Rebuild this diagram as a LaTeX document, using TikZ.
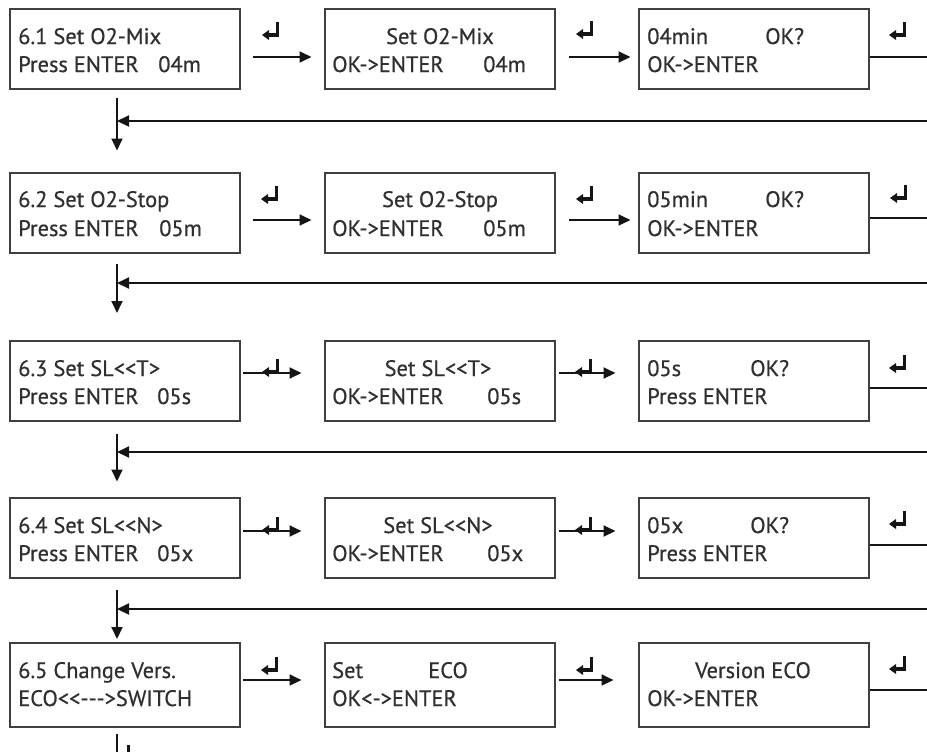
\documentclass[tikz,border=0pt]{standalone}
\usepackage{fontspec}
\setmainfont{PT Sans}
\newfontfamily\lcdfont{PT Sans}[FakeBold=0.6]
\usetikzlibrary{arrows.meta,calc}
\definecolor{ink}{HTML}{151515}
\definecolor{txtc}{HTML}{303030}
\definecolor{frame}{HTML}{404040}
\begin{document}
\begin{tikzpicture}[x=0.75pt,y=-0.75pt,
  box/.style={draw=frame,line width=1.5pt,minimum width=172.5pt,minimum height=60pt,inner sep=0pt,fill=white},
  tallbox/.style={box,minimum height=63pt},
  lbl/.style={anchor=base west,inner sep=0pt,text=txtc,font=\lcdfont\fontsize{16.8}{20}\selectfont},
  lblc/.style={lbl,anchor=base},
  arr/.style={draw=ink,line width=1.6pt,-{Triangle[length=9pt,width=8.2pt]}},
  ln/.style={draw=ink,line width=1.6pt},
  retkey/.pic={\draw[ink,line width=2.5pt,line join=miter] (5.5,-9) -- (5.5,4) -- (-4,4);
               \fill[ink] (-10,4) -- (-3,-1) -- (-3,9) -- cycle;}
]
\useasboundingbox (0,0) rectangle (927,751);
\clip (0,0) rectangle (927,751);

% ---------- boxes ----------
\node[box] (b11) at (125,49) {};
\node[box] (b12) at (439.5,49) {};
\node[box] (b13) at (753.5,49) {};
\node[box] (b21) at (125,212.5) {};
\node[box] (b22) at (439.5,212.5) {};
\node[box] (b23) at (753.5,212.5) {};
\node[box] (b31) at (125,381) {};
\node[box] (b32) at (439.5,381) {};
\node[box] (b33) at (753.5,381) {};
\node[box] (b41) at (125,537.5) {};
\node[box] (b42) at (439.5,537.5) {};
\node[box] (b43) at (753.5,537.5) {};
\node[tallbox] (b51) at (125,685) {};
\node[tallbox] (b52) at (439.5,685) {};
\node[tallbox] (b53) at (753.5,685) {};

% ---------- texts ----------
% row 1
\node[lbl] (t11a) at (18,44) {6.1 Set O2-Mix};
\node[lbl] (t11b) at (18,72) {Press ENTER};
\node[lbl] (t11c) at (158,72) {04m};
\node[lblc] (t12a) at (440,44) {Set O2-Mix};
\node[lbl] (t12b) at (332,72) {OK->ENTER};
\node[lbl] (t12c) at (483,72) {04m};
\node[lbl] (t13a) at (647,44) {04min};
\node[lbl] (t13b) at (765,44) {OK?};
\node[lbl] (t13c) at (647,72) {OK->ENTER};
% row 2
\node[lbl] (t21a) at (18,207) {6.2 Set O2-Stop};
\node[lbl] (t21b) at (18,236) {Press ENTER};
\node[lbl] (t21c) at (159,236) {05m};
\node[lblc] (t22a) at (440,207) {Set O2-Stop};
\node[lbl] (t22b) at (332,236) {OK->ENTER};
\node[lbl] (t22c) at (483,236) {05m};
\node[lbl] (t23a) at (647,207) {05min};
\node[lbl] (t23b) at (765,207) {OK?};
\node[lbl] (t23c) at (647,236) {OK->ENTER};
% row 3
\node[lbl] (t31a) at (18,376) {6.3 Set SL<{}<T>};
\node[lbl] (t31b) at (18,404) {Press ENTER};
\node[lbl] (t31c) at (157,404) {05s};
\node[lblc] (t32a) at (438,376) {Set SL<{}<T>};
\node[lbl] (t32b) at (332,404) {OK->ENTER};
\node[lbl] (t32c) at (487,404) {05s};
\node[lbl] (t33a) at (647,376) {05s};
\node[lbl] (t33b) at (750,376) {OK?};
\node[lbl] (t33c) at (647,404) {Press ENTER};
% row 4
\node[lbl] (t41a) at (18,533) {6.4 Set SL<{}<N>};
\node[lbl] (t41b) at (18,561) {Press ENTER};
\node[lbl] (t41c) at (157,561) {05x};
\node[lblc] (t42a) at (438,533) {Set SL<{}<N>};
\node[lbl] (t42b) at (332,561) {OK->ENTER};
\node[lbl] (t42c) at (487,561) {05x};
\node[lbl] (t43a) at (647,533) {05x};
\node[lbl] (t43b) at (750,533) {OK?};
\node[lbl] (t43c) at (647,561) {Press ENTER};
% row 5
\node[lbl] (t51a) at (18,678) {6.5 Change Vers.};
\node[lbl] (t51b) at (18,706) {ECO<{}<-{}-{}->SWITCH};
\node[lbl] (t52a) at (332,678) {Set};
\node[lbl] (t52b) at (428,678) {ECO};
\node[lbl] (t52c) at (332,706) {OK<->ENTER};
\node[lblc] (t53a) at (753,678) {Version ECO};
\node[lbl] (t53b) at (647,706) {OK->ENTER};

% ---------- horizontal arrows ----------
\draw[arr] ($(b11.east)+(12,8)$) -- ($(b12.west)+(-12,8)$);
\draw[arr] ($(b12.east)+(13,8)$) -- ($(b13.west)+(-7,8)$);
\draw[arr] ($(b21.east)+(12,7.5)$) -- ($(b22.west)+(-12,7.5)$);
\draw[arr] ($(b22.east)+(13,7.5)$) -- ($(b23.west)+(-7,7.5)$);
\draw[arr] ($(b31.east)+(2,-8)$) -- ($(b32.west)+(-22,-8)$);
\draw[arr] ($(b32.east)+(3,-8)$) -- ($(b33.west)+(-22,-8)$);
\draw[arr] ($(b41.east)+(2,-6.5)$) -- ($(b42.west)+(-22,-6.5)$);
\draw[arr] ($(b42.east)+(3,-6.5)$) -- ($(b43.west)+(-22,-6.5)$);
\draw[arr] ($(b51.east)+(2,-5)$) -- ($(b52.west)+(-22,-5)$);
\draw[arr] ($(b52.east)+(3,-5)$) -- ($(b53.west)+(-24,-5)$);

% ---------- exits to the right edge ----------
\coordinate (e1) at (930,57);
\coordinate (e2) at (930,218);
\coordinate (e3) at (930,388);
\coordinate (e4) at (930,545);
\coordinate (e5) at (930,690);
\draw[ln] ($(b13.east)+(0,8)$) -- (e1);
\draw[ln] ($(b23.east)+(0,5.5)$) -- (e2);
\draw[ln] ($(b33.east)+(0,7)$) -- (e3);
\draw[ln] ($(b43.east)+(0,7.5)$) -- (e4);
\draw[ln] ($(b53.east)+(0,5)$) -- (e5);

% ---------- vertical arrows ----------
\coordinate (v1) at ($(b11.south)+(-8,8)$);
\coordinate (v2) at ($(b21.south)+(-8,10)$);
\coordinate (v3) at ($(b31.south)+(-8,12)$);
\coordinate (v4) at ($(b41.south)+(-8,11)$);
\coordinate (v5) at ($(b51.south)+(-8,6)$);
\draw[arr] (v1) -- ($(b21.north)+(-8,-21)$);
\draw[arr] (v2) -- ($(b31.north)+(-8,-27)$);
\draw[arr] (v3) -- ($(b41.north)+(-8,-15)$);
\draw[arr] (v4) -- ($(b51.north)+(-8,-3)$);
\coordinate (vend) at (117,760);
\draw[ln] (v5) -- (vend);

% ---------- return arrows ----------
\coordinate (r1) at (930,121);
\coordinate (r2) at (930,283);
\coordinate (r3) at (930,452);
\coordinate (r4) at (930,609);
\draw[arr] (r1) -- (r1 -| v1);
\draw[arr] (r2) -- (r2 -| v2);
\draw[arr] (r3) -- (r3 -| v3);
\draw[arr] (r4) -- (r4 -| v4);

% ---------- enter symbols ----------
\pic at (272,31) {retkey};
\pic at (586,30) {retkey};
\pic at (899,31) {retkey};
\pic at (271,195) {retkey};
\pic at (586,195) {retkey};
\pic at (900,194) {retkey};
\pic at (272,368) {retkey};
\pic at (585,368) {retkey};
\pic at (899,364) {retkey};
\pic at (272,526) {retkey};
\pic at (585,526) {retkey};
\pic at (899,520) {retkey};
\pic at (271,666) {retkey};
\pic at (586,666) {retkey};
\pic at (899,665) {retkey};
\pic at (123,754) {retkey};
\end{tikzpicture}
\end{document}
